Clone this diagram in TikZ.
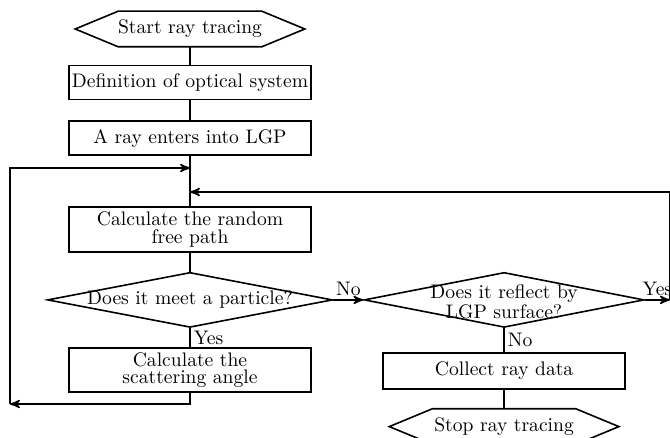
\documentclass[tikz,border=0pt]{standalone}
\usetikzlibrary{shapes.geometric, positioning, arrows, calc}
\tikzset {
    x=0.5pt, y=-0.5pt,
    >=stealth',
    every node/.style={font=\fontsize{9.8}{8.8}\selectfont},
    every path/.style={line width=0.8pt},
    box/.style={draw, minimum width=121pt, inner sep=1pt, align=center},
    terminal/.style={minimum width=114pt, minimum height=17pt, inner sep=1pt,
        append after command={\pgfextra{\draw
            ([xshift=21.5pt]\tikzlastnode.north west) -- ([xshift=-21.5pt]\tikzlastnode.north east)
            -- (\tikzlastnode.east) -- ([xshift=-21.5pt]\tikzlastnode.south east)
            -- ([xshift=21.5pt]\tikzlastnode.south west) -- (\tikzlastnode.west) -- cycle;}}},
    decision/.style={draw, diamond, minimum height=27.5pt, inner sep=0pt},
    tag/.style={inner sep=1.5pt}
}
\begin{document}
\begin{tikzpicture}
                        \useasboundingbox (0,0) rectangle (670,438);

                        \node[terminal] (start) at (190,29) {Start ray tracing};
                        \node[box, minimum height=17pt, below=9pt of start] (define) {Definition of optical system};
                        \node[box, minimum height=17pt, below=10pt of define] (enter) {A ray enters into LGP};
                        \node[box, minimum height=22.5pt, below=25pt of enter] (freepath) {Calculate the random\\free path};
                        \node[decision, minimum width=142.5pt, below=9.5pt of freepath,
                            label=center:{Does it meet a particle?}] (meet) {};
                        \node[box, minimum height=22pt, below=9.5pt of meet] (scatter) {Calculate the\\scattering angle};
                        \node[decision, minimum width=140pt, right=15pt of meet,
                            label={[align=center, yshift=-1pt]center:{Does it reflect by\\LGP surface?}}] (reflect) {};
                        \node[box, minimum height=18pt, below=12pt of reflect] (collect) {Collect ray data};
                        \node[terminal, below=9.5pt of collect] (stop) {Stop ray tracing};

                        \coordinate (mergeL) at (190,168);
                        \coordinate (mergeR) at (190,192);
                        \coordinate (loopL) at (10,404);
                        \coordinate (loopR) at ($(reflect.east)+(25,0)$);

                        \draw
                        (start) edge (define)
                        (define) edge (enter)
                        (enter) edge (freepath)
                        (freepath) edge (meet)
                        (meet) edge node[tag, right] {Yes} (scatter)
                        (reflect) edge node[tag, right] {No} (collect)
                        (collect) edge (stop);

                        \draw[->] (meet) -- node[tag, above] {No} (reflect);
                        \draw[->] (reflect) -- node[tag, above] {Yes} (loopR);
                        \draw[->] (loopR) |- (mergeR);
                        \draw[->] (scatter) |- (loopL);
                        \draw[->] (loopL) |- (mergeL);

                    \end{tikzpicture}
\end{document}
